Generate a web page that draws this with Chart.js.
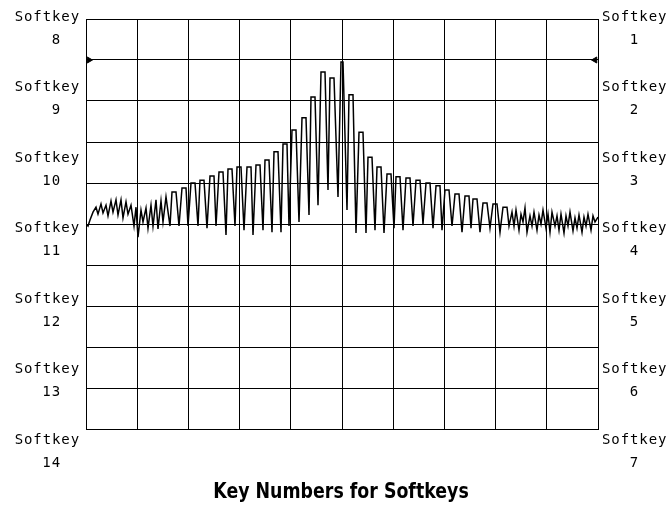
<!DOCTYPE html>
<html>
<head>
<meta charset="utf-8">
<script src="https://cdn.jsdelivr.net/npm/chart.js@4/dist/chart.umd.min.js"></script>
<style>
  html, body { margin: 0; padding: 0; background: #fff; }
  canvas { display: block; }
</style>
</head>
<body>
<canvas id="screen" width="671" height="511"></canvas>
<script>
// trace: sweep bucket (0..512) and level in dB (ref 0 dB at top, 10 dB/div)
var traceX = [
  0, 2, 4, 7, 10, 12, 15, 17, 20, 22, 25, 27, 30, 32, 35, 37, 40, 42, 45, 48,
  50, 52, 55, 57, 60, 62, 65, 67, 70, 72, 75, 77, 80, 84,
  86, 90, 93, 96, 100, 102, 105, 109, 112, 114, 118, 121, 124, 128, 130, 133, 137, 140,
  142, 146, 149, 151, 155, 158, 161, 165, 167, 170, 174, 177, 179, 183, 186, 188, 192, 195,
  197, 201, 203, 206, 210, 213, 216, 220, 223, 225, 229, 232, 235, 239, 242, 244, 248, 252,
  255, 257, 261, 263, 267, 270, 273, 277, 280, 282, 286, 289, 291, 295, 298, 301, 305, 308,
  310, 314, 317, 320, 324, 327, 330, 334, 337, 340, 344, 347, 350, 354, 356, 359, 363, 366,
  369, 373, 376, 379, 383, 385, 387, 391, 394, 397, 401, 404, 407, 411, 414, 417, 421, 423,
  426, 428, 430, 433, 435, 437, 439, 441, 444, 446, 448, 451, 453, 455, 457, 460, 462, 464,
  466, 469, 471, 473, 475, 478, 480, 482, 484, 487, 489, 491, 493, 496, 498, 500, 502, 505,
  507, 509, 512
];
var traceDb = [
  -50.0, -50.5, -49.0, -47.1, -45.9, -47.6, -45.1, -47.3, -45.4, -48.0, -44.4, -47.1, -44.1, -47.8, -44.1, -48.5, -44.6, -47.6, -45.4, -50.5,
  -45.9, -53.2, -46.6, -49.5, -46.1, -51.0, -45.4, -50.5, -44.1, -51.2, -44.4, -49.5, -43.4, -50.5,
  -42.2, -42.2, -50.5, -41.2, -41.2, -50.5, -40.0, -40.0, -50.5, -39.3, -39.3, -51.0, -38.3, -38.3, -50.5, -37.3, -37.3, -52.7,
  -36.6, -36.6, -50.5, -36.1, -36.1, -51.5, -36.1, -36.1, -52.7, -35.6, -35.6, -51.5, -34.4, -34.4, -52.0, -32.4, -32.4, -52.0,
  -30.5, -30.5, -50.5, -27.1, -27.1, -49.5, -24.1, -24.1, -47.8, -19.0, -19.0, -45.4, -12.9, -12.9, -41.7, -14.4, -14.4, -43.4,
  -10.5, -10.5, -46.6, -18.5, -18.5, -52.2, -27.6, -27.6, -52.2, -33.7, -33.7, -51.5, -36.1, -36.1, -52.2, -37.8, -37.8, -51.0,
  -38.5, -38.5, -51.5, -38.8, -38.8, -50.5, -39.3, -39.3, -50.0, -40.0, -40.0, -51.0, -40.7, -40.7, -51.5, -41.7, -41.7, -50.5,
  -42.7, -42.7, -52.0, -43.2, -43.2, -51.0, -43.9, -43.9, -52.0, -44.9, -44.9, -51.0, -45.1, -45.1, -52.0, -45.9, -45.9, -50.5,
  -47.1, -50.5, -46.6, -51.5, -47.6, -49.5, -46.1, -52.0, -48.0, -50.5, -47.1, -51.5, -47.8, -50.0, -46.6, -51.0, -47.6, -52.0,
  -47.1, -50.5, -48.0, -51.5, -47.6, -52.2, -48.0, -50.5, -47.1, -51.7, -48.5, -51.0, -47.8, -52.0, -48.3, -50.5, -47.6, -51.5,
  -48.0, -49.5, -48.3
];

// reference level markers at both edges
var markerX = [3, 509];
var markerDb = [-10, -10];
var markerRotation = [90, -90];

// softkey labels
var leftKeys = ['8', '9', '10', '11', '12', '13', '14'];
var rightKeys = ['1', '2', '3', '4', '5', '6', '7'];
var keyWord = 'Softkey';
var caption = 'Key Numbers for Softkeys';

var xDivs = 10, xSpan = 512;

var tracePoints = traceX.map(function(x, i) { return { x: x, y: traceDb[i] }; });
var markerPoints = markerX.map(function(x, i) { return { x: x, y: markerDb[i] }; });

var softkeyLabels = {
  id: 'softkeyLabels',
  afterDraw: function(chart) {
    var ctx = chart.ctx;
    var area = chart.chartArea;
    var step = 70.5;
    ctx.save();
    ctx.fillStyle = '#000';
    ctx.font = '14px "DejaVu Sans Mono", monospace';
    ctx.textBaseline = 'middle';
    try { ctx.letterSpacing = '0.9px'; } catch (e) {}
    for (var i = 0; i < leftKeys.length; i++) {
      var y = area.top - 2 + i * step;
      ctx.textAlign = 'right';
      ctx.fillText(keyWord, area.left - 6, y);
      ctx.fillText(leftKeys[i], area.left - 25, y + 23);
      ctx.textAlign = 'left';
      ctx.fillText(keyWord, area.right + 4, y);
      ctx.textAlign = 'right';
      ctx.fillText(rightKeys[i], area.right + 41, y + 23);
    }
    try { ctx.letterSpacing = '0px'; } catch (e) {}
    // condensed bold caption
    ctx.font = 'bold 22px "DejaVu Sans", sans-serif';
    ctx.textAlign = 'center';
    ctx.translate((area.left + area.right) / 2 - 1, area.bottom + 63);
    ctx.scale(0.79, 1);
    ctx.fillText(caption, 0, 0);
    ctx.restore();
  }
};

new Chart(document.getElementById('screen'), {
  type: 'line',
  data: {
    datasets: [{
      label: 'trace',
      data: tracePoints,
      borderColor: '#000',
      borderWidth: 1.5,
      pointRadius: 0,
      tension: 0,
      fill: false
    }, {
      type: 'scatter',
      label: 'ref',
      data: markerPoints,
      pointStyle: 'triangle',
      pointRotation: markerRotation,
      pointRadius: 3.5,
      backgroundColor: '#000',
      borderColor: '#000',
      borderWidth: 1
    }]
  },
  options: {
    responsive: false,
    animation: false,
    devicePixelRatio: 1,
    layout: { padding: { left: 86, right: 73, top: 19, bottom: 82 } },
    plugins: { legend: { display: false }, tooltip: { enabled: false } },
    scales: {
      x: {
        type: 'linear',
        min: 0,
        max: xSpan,
        afterBuildTicks: function(scale) {
          var t = [];
          for (var i = 0; i <= xDivs; i++) t.push({ value: xSpan * i / xDivs });
          scale.ticks = t;
        },
        ticks: { display: false },
        grid: { color: '#000', lineWidth: 1, drawTicks: false },
        border: { display: true, color: '#000', width: 1 }
      },
      y: {
        min: -100,
        max: 0,
        ticks: { display: false, stepSize: 10 },
        grid: { color: '#000', lineWidth: 1, drawTicks: false },
        border: { display: true, color: '#000', width: 1 }
      }
    }
  },
  plugins: [softkeyLabels]
});
</script>
</body>
</html>
